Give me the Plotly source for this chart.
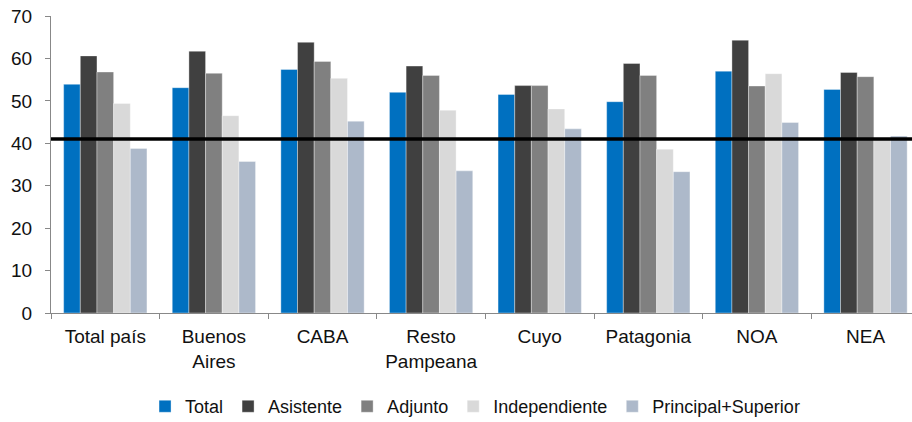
import plotly.graph_objects as go

categories = ["Total país", "Buenos<br>Aires", "CABA", "Resto<br>Pampeana", "Cuyo", "Patagonia", "NOA", "NEA"]
total = [53.9, 53.1, 57.4, 52.0, 51.5, 49.8, 57.0, 52.7]
asistente = [60.6, 61.7, 63.8, 58.2, 53.6, 58.8, 64.3, 56.7]
adjunto = [56.8, 56.5, 59.3, 56.0, 53.6, 56.0, 53.5, 55.7]
independiente = [49.4, 46.5, 55.3, 47.8, 48.1, 38.6, 56.4, 41.0]
principal_superior = [38.8, 35.7, 45.2, 33.5, 43.4, 33.3, 44.9, 41.7]
reference_value = 41.0
y_ticks = [0, 10, 20, 30, 40, 50, 60, 70]

series = [
    ("Total", total, "#0070C0"),
    ("Asistente", asistente, "#404040"),
    ("Adjunto", adjunto, "#808080"),
    ("Independiente", independiente, "#D9D9D9"),
    ("Principal+Superior", principal_superior, "#ADB9CA"),
]

fig = go.Figure()
for name, vals, color in series:
    fig.add_trace(go.Bar(
        name=name, x=categories, y=vals,
        marker=dict(color=color, line=dict(color="rgba(255,255,255,0.6)", width=0.6)),
    ))

fig.add_shape(type="line", xref="paper", yref="y", x0=0, x1=1,
              y0=reference_value, y1=reference_value,
              line=dict(color="black", width=3.5), layer="above")

font = dict(family="Liberation Sans, Arial, sans-serif", size=19, color="#111111")
legend_font = dict(family="Liberation Sans, Arial, sans-serif", size=18, color="#111111")
fig.update_layout(
    width=912, height=422,
    margin=dict(l=51, r=0, t=16, b=109, autoexpand=False),
    plot_bgcolor="white", paper_bgcolor="white",
    font=font,
    barmode="group", bargap=0.233, bargroupgap=0,
    showlegend=True,
    legend=dict(orientation="h", x=0.4925, xanchor="center", y=-0.315, yanchor="middle",
                font=legend_font, itemwidth=30, traceorder="normal"),
    xaxis=dict(range=[-0.5, 7.428], showline=True, linecolor="#888888", linewidth=1,
               ticks="outside", tickson="boundaries", ticklen=5, tickcolor="#888888",
               showgrid=False, tickfont=font, ticklabelstandoff=6),
    yaxis=dict(range=[0, 70], tickvals=y_ticks, showline=True, linecolor="#888888", linewidth=1,
               ticks="outside", ticklen=5, tickcolor="#888888", showgrid=False,
               zeroline=False, tickfont=font, ticklabelstandoff=9),
)

fig.write_html("out.html", config={"displayModeBar": False},
               post_script="document.body.style.margin='0px';")
